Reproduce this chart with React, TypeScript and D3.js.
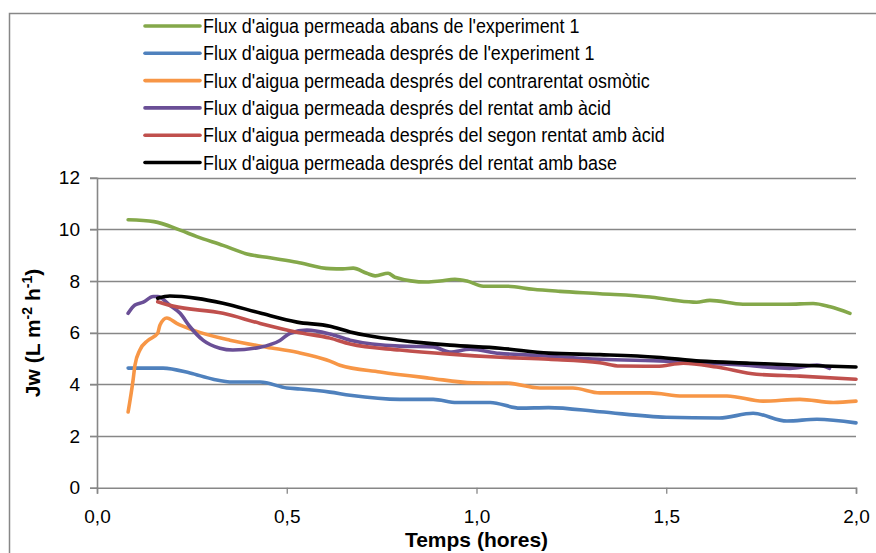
import * as d3 from "d3";
import { useEffect, useRef } from "react";

// series data (time in hours, flux in L m-2 h-1)
const seriesNames = [
  "Flux d'aigua permeada abans de l'experiment 1",
  "Flux d'aigua permeada després de l'experiment 1",
  "Flux d'aigua permeada després del contrarentat osmòtic",
  "Flux d'aigua permeada després del rentat amb àcid",
  "Flux d'aigua permeada després del segon rentat amb àcid",
  "Flux d'aigua permeada després del rentat amb base",
];
const seriesColors = ["#84a84a", "#4f81bd", "#f79646", "#6a4f96", "#c0504d", "#000000"];

const greenT = [0.082, 0.15, 0.219, 0.263, 0.332, 0.395, 0.456, 0.527, 0.614, 0.648, 0.675, 0.711, 0.733, 0.767, 0.785, 0.869, 0.904, 0.943, 0.975, 1.018, 1.08, 1.149, 1.22, 1.325, 1.457, 1.518, 1.58, 1.615, 1.702, 1.818, 1.887, 1.932, 1.984];
const greenV = [10.37, 10.3, 9.97, 9.72, 9.38, 9.05, 8.9, 8.73, 8.48, 8.47, 8.5, 8.3, 8.2, 8.3, 8.15, 7.96, 8.0, 8.07, 8.0, 7.8, 7.8, 7.68, 7.6, 7.51, 7.38, 7.26, 7.18, 7.25, 7.1, 7.1, 7.13, 7.0, 6.75];

const blueT = [0.082, 0.174, 0.245, 0.306, 0.358, 0.43, 0.5, 0.535, 0.614, 0.667, 0.798, 0.886, 0.948, 1.036, 1.115, 1.19, 1.325, 1.5, 1.64, 1.729, 1.818, 1.897, 2.0];
const blueV = [4.63, 4.63, 4.44, 4.2, 4.09, 4.09, 3.86, 3.82, 3.7, 3.58, 3.42, 3.42, 3.3, 3.3, 3.08, 3.1, 2.94, 2.73, 2.7, 2.88, 2.58, 2.65, 2.51];

const orangeT = [0.082, 0.095, 0.1, 0.113, 0.134, 0.16, 0.166, 0.184, 0.21, 0.253, 0.35, 0.447, 0.527, 0.614, 0.64, 0.746, 0.877, 0.99, 1.08, 1.167, 1.254, 1.325, 1.457, 1.544, 1.66, 1.755, 1.852, 1.94, 2.0];
const orangeV = [2.93, 4.16, 4.74, 5.33, 5.7, 5.98, 6.3, 6.57, 6.36, 6.1, 5.71, 5.44, 5.24, 4.9, 4.74, 4.48, 4.24, 4.06, 4.05, 3.86, 3.86, 3.67, 3.67, 3.55, 3.55, 3.35, 3.42, 3.3, 3.35];

const purpleT = [0.082, 0.1, 0.122, 0.148, 0.16, 0.192, 0.219, 0.245, 0.28, 0.324, 0.358, 0.43, 0.482, 0.509, 0.553, 0.614, 0.667, 0.798, 0.886, 0.93, 0.983, 1.06, 1.149, 1.325, 1.5, 1.7, 1.826, 1.897, 1.93];
const purpleV = [6.75, 7.07, 7.18, 7.4, 7.4, 7.06, 6.75, 6.23, 5.7, 5.4, 5.33, 5.44, 5.7, 5.98, 6.1, 5.95, 5.71, 5.48, 5.45, 5.25, 5.36, 5.2, 5.13, 4.97, 4.9, 4.75, 4.62, 4.75, 4.62];

const redT = [0.16, 0.2, 0.332, 0.43, 0.527, 0.614, 0.667, 0.798, 0.93, 1.062, 1.19, 1.325, 1.378, 1.475, 1.545, 1.633, 1.738, 1.852, 2.0];
const redV = [7.2, 7.03, 6.75, 6.36, 6.02, 5.79, 5.56, 5.33, 5.17, 5.05, 4.97, 4.84, 4.71, 4.7, 4.82, 4.67, 4.39, 4.32, 4.2];

const blackT = [0.16, 0.192, 0.263, 0.332, 0.43, 0.527, 0.614, 0.667, 0.798, 0.93, 1.062, 1.19, 1.325, 1.475, 1.59, 1.72, 1.852, 2.0];
const blackV = [7.33, 7.42, 7.33, 7.14, 6.76, 6.41, 6.25, 6.03, 5.71, 5.52, 5.4, 5.21, 5.15, 5.05, 4.9, 4.82, 4.74, 4.67];

const xTicks = [0, 0.5, 1, 1.5, 2];
const yTicks = [0, 2, 4, 6, 8, 10, 12];

const allT = [greenT, blueT, orangeT, purpleT, redT, blackT];
const allV = [greenV, blueV, orangeV, purpleV, redV, blackV];

export default function App() {
  const svgRef = useRef<SVGSVGElement>(null);

  useEffect(() => {
    const width = 876;
    const height = 553;
    const svg = d3.select(svgRef.current);
    svg.selectAll("*").remove();

    const font = "'Liberation Sans', Arial, sans-serif";
    const grid = "#878787";
    const squeeze = 0.92; // the original font is narrower than Liberation Sans

    const x = d3.scaleLinear().domain([0, 2]).range([97, 856]);
    const y = d3.scaleLinear().domain([0, 12]).range([487.7, 177.7]);

    svg.append("rect").attr("width", width).attr("height", height).attr("fill", "#fff");

    // outer chart border (cropped on the right and bottom)
    svg.append("rect")
      .attr("x", 9.5).attr("y", 13.5)
      .attr("width", 900).attr("height", 600)
      .attr("fill", "none").attr("stroke", grid).attr("stroke-width", 1.5);

    // horizontal gridlines
    svg.append("g")
      .selectAll("line")
      .data(yTicks.filter(d => d > 0))
      .join("line")
      .attr("x1", 90).attr("x2", x(2))
      .attr("y1", d => Math.round(y(d)) + 0.5).attr("y2", d => Math.round(y(d)) + 0.5)
      .attr("stroke", grid).attr("stroke-width", 1.3);

    // axes
    const yAxis = svg.append("g").attr("transform", `translate(${x(0)},0)`)
      .call(d3.axisLeft(y).tickValues(yTicks).tickSize(7).tickFormat(d => String(d)));
    const xAxis = svg.append("g").attr("transform", `translate(0,${y(0)})`)
      .call(d3.axisBottom(x).tickValues(xTicks).tickSize(6).tickFormat(d => d3.format(".1f")(d as number).replace(".", ",")));
    [yAxis, xAxis].forEach(a => {
      a.select(".domain").attr("stroke", grid).attr("stroke-width", 1.6);
      a.selectAll(".tick line").attr("stroke", grid).attr("stroke-width", 1.3);
      a.selectAll("text").attr("font-family", font).attr("font-size", 19).attr("fill", "#000");
    });
    yAxis.selectAll("text").attr("x", -17);
    xAxis.selectAll("text").attr("y", 22);

    // series
    const line = d3.line<[number, number]>()
      .x(d => x(d[0])).y(d => y(d[1]))
      .curve(d3.curveMonotoneX);
    allT.forEach((ts, i) => {
      const pts = ts.map((t, k) => [t, allV[i][k]] as [number, number]);
      svg.append("path")
        .attr("d", line(pts))
        .attr("fill", "none")
        .attr("stroke", seriesColors[i])
        .attr("stroke-width", 3.6)
        .attr("stroke-linejoin", "round")
        .attr("stroke-linecap", "round");
    });

    // legend
    const legend = svg.append("g").attr("transform", "translate(145,26)");
    seriesNames.forEach((name, i) => {
      const g = legend.append("g").attr("transform", `translate(0,${i * 27.3})`);
      g.append("line").attr("x1", 0).attr("x2", 55).attr("y1", 0).attr("y2", 0)
        .attr("stroke", seriesColors[i]).attr("stroke-width", 3.6).attr("stroke-linecap", "round");
      g.append("text")
        .attr("transform", `translate(58,7) scale(${squeeze},1)`)
        .attr("font-family", font).attr("font-size", 19.5)
        .text(name);
    });

    // axis titles
    svg.append("text")
      .attr("x", (x(0) + x(2)) / 2).attr("y", 547)
      .attr("text-anchor", "middle")
      .attr("font-family", font).attr("font-size", 21).attr("font-weight", "bold")
      .text("Temps (hores)");

    const yt = svg.append("text")
      .attr("transform", "translate(40,333) rotate(-90)")
      .attr("text-anchor", "middle")
      .attr("font-family", font).attr("font-size", 21).attr("font-weight", "bold");
    yt.append("tspan").text("Jw (L m");
    yt.append("tspan").attr("font-size", 14).attr("dy", -8).text("-2");
    yt.append("tspan").attr("dy", 8).text(" h");
    yt.append("tspan").attr("font-size", 14).attr("dy", -8).text("-1");
    yt.append("tspan").attr("dy", 8).text(")");
  }, []);

  return (
    <svg ref={svgRef} width={876} height={553}
      style={{ position: "absolute", left: 0, top: 0, display: "block" }} />
  );
}
